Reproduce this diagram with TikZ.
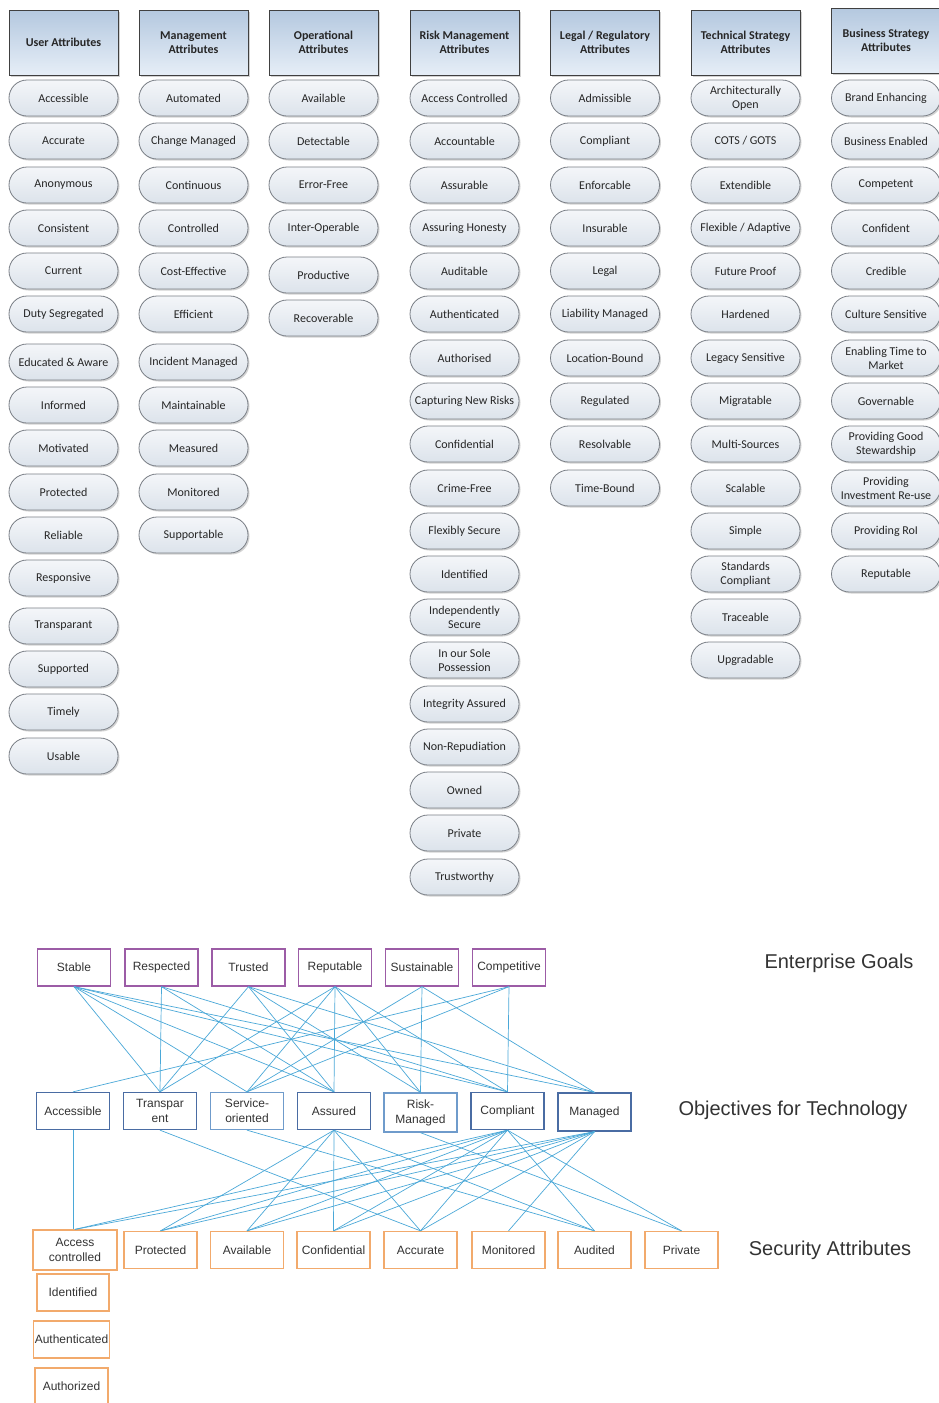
\documentclass[tikz,border=0pt]{standalone}
\usepackage{fontspec}
\setmainfont{Carlito}
\newfontfamily\arial{Liberation Sans}
\usetikzlibrary{shadows}
\definecolor{hdrtop}{HTML}{B4C8DF}
\definecolor{hdrbot}{HTML}{E6EEF7}
\definecolor{pilltop}{HTML}{F4F6F9}
\definecolor{pillbot}{HTML}{DCE3EB}
\definecolor{pillline}{HTML}{7A7F86}
\definecolor{goalline}{HTML}{9C5CA6}
\definecolor{objline}{HTML}{4A6CA3}
\definecolor{objlight}{HTML}{6F9BCB}
\definecolor{secline}{HTML}{F2AA6C}
\definecolor{linkblue}{HTML}{4AA8D8}
\definecolor{txt}{HTML}{333333}
\tikzset{
  hdr/.style={draw=black!75, line width=0.8pt, top color=hdrtop, bottom color=hdrbot,
    minimum width=109pt, minimum height=65pt, align=center, inner sep=1pt,
    font=\fontsize{12}{14}\selectfont\bfseries, text=black!85,
    drop shadow={shadow xshift=1.5pt, shadow yshift=-1.5pt, fill=black!35, opacity=0.5}},
  pill/.style={draw=pillline, line width=0.8pt, rounded corners=18pt, top color=pilltop, bottom color=pillbot,
    minimum width=109pt, minimum height=36pt, align=center, inner sep=1pt,
    font=\fontsize{12}{14}\selectfont, text=black!85,
    drop shadow={shadow xshift=1.5pt, shadow yshift=-1.5pt, fill=black!35, opacity=0.5}},
  box/.style={fill=white, line width=1.3pt, minimum width=73pt, minimum height=37pt,
    align=center, inner sep=1pt, font=\arial\fontsize{12}{15}\selectfont, text=txt},
  goal/.style={box, draw=goalline},
  obj/.style={box, draw=objline},
  objl/.style={box, draw=objlight},
  sec/.style={box, draw=secline},
  tier/.style={font=\arial\fontsize{20}{24}\selectfont, text=txt},
  link/.style={draw=linkblue, line width=0.7pt},
}
\begin{document}
\begin{tikzpicture}[x=1pt, y=-1pt]
\useasboundingbox[fill=white] (0,0) rectangle (939,1403);

% ---------- attribute taxonomy: column headers ----------
\node[hdr] (h1) at (63.5,42.5) {User Attributes};
\node[hdr] (h2) at (193.5,42.5) {Management\\Attributes};
\node[hdr] (h3) at (323.5,42.5) {Operational\\Attributes};
\node[hdr] (h4) at (464.5,42.5) {Risk Management\\Attributes};
\node[hdr] (h5) at (605,42.5) {Legal / Regulatory\\Attributes};
\node[hdr] (h6) at (745.5,42.5) {Technical Strategy\\Attributes};
\node[hdr] (h7) at (886,40.5) {Business Strategy\\Attributes};

% ---------- attribute taxonomy: attributes per column ----------
\foreach [count=\i] \t/\y in {Accessible/98, Accurate/141, Anonymous/185, Consistent/228,
  Current/271, Duty Segregated/314, Educated \& Aware/362, Informed/405, Motivated/448,
  Protected/492, Reliable/535, Responsive/578, Transparant/626, Supported/669,
  Timely/712, Usable/756}
  \node[pill] (ua\i) at (63.5,\y) {\t};

\foreach [count=\i] \t/\y in {Automated/98, Change Managed/141, Continuous/185, Controlled/228,
  Cost-Effective/271, Efficient/314, Incident Managed/362, Maintainable/405, Measured/448,
  Monitored/492, Supportable/535}
  \node[pill] (ma\i) at (193.5,\y) {\t};

\foreach [count=\i] \t/\y in {Available/98, Detectable/141, Error-Free/185, Inter-Operable/228,
  Productive/275, Recoverable/318}
  \node[pill] (oa\i) at (323.5,\y) {\t};

\foreach [count=\i] \t/\y in {Access Controlled/98, Accountable/141, Assurable/185,
  Assuring Honesty/228, Auditable/271, Authenticated/314, Authorised/358,
  Capturing New Risks/401, Confidential/444, Crime-Free/488, Flexibly Secure/531,
  Identified/574, {Independently\\Secure}/617, {In our Sole\\Possession}/660,
  Integrity Assured/704, Non-Repudiation/747, Owned/790, Private/833, Trustworthy/877}
  \node[pill] (ra\i) at (464.5,\y) {\t};

\foreach [count=\i] \t/\y in {Admissible/98, Compliant/141, Enforcable/185, Insurable/228,
  Legal/271, Liability Managed/314, Location-Bound/358, Regulated/401, Resolvable/444,
  Time-Bound/488}
  \node[pill] (la\i) at (605,\y) {\t};

\foreach [count=\i] \t/\y in {{Architecturally\\Open}/98, {COTS / GOTS}/141, Extendible/185,
  {Flexible / Adaptive}/228, Future Proof/271, Hardened/314, Legacy Sensitive/358,
  Migratable/401, Multi-Sources/444, Scalable/488, Simple/531, {Standards\\Compliant}/574,
  Traceable/617, Upgradable/660}
  \node[pill] (ta\i) at (745.5,\y) {\t};

\foreach [count=\i] \t/\y in {Brand Enhancing/98, Business Enabled/141, Competent/185,
  Confident/228, Credible/271, Culture Sensitive/314, {Enabling Time to\\Market}/358,
  Governable/401, {Providing Good\\Stewardship}/444, {Providing\\Investment Re-use}/488,
  Providing RoI/531, Reputable/574}
  \node[pill] (ba\i) at (886,\y) {\t};

% ---------- goals / objectives / security attributes ----------
\node[goal] (stable) at (74,967.5) {Stable};
\node[goal] (respected) at (161.5,967.5) {Respected};
\node[goal] (trusted) at (248.5,967.5) {Trusted};
\node[goal] (reputable) at (335,967.5) {Reputable};
\node[goal] (sustain) at (422,967.5) {Sustainable};
\node[goal] (compet) at (509,967.5) {Competitive};

\node[obj] (access) at (73,1111) {Accessible};
\node[obj] (transp) at (160,1111) {Transpar\\ent};
\node[objl] (service) at (247,1111) {Service-\\oriented};
\node[obj] (assured) at (334,1111) {Assured};
\node[objl, minimum height=39pt] (riskm) at (420.5,1112.5) {Risk-\\Managed};
\node[obj] (compl) at (507.5,1111) {Compliant};
\node[obj, minimum height=38pt] (managed) at (594.5,1112) {Managed};

\node[sec, minimum width=84pt, minimum height=40pt] (accctl) at (75,1250) {Access\\controlled};
\node[sec] (protect) at (160.5,1250) {Protected};
\node[sec] (avail) at (247,1250) {Available};
\node[sec] (confid) at (333.5,1250) {Confidential};
\node[sec] (accur) at (420.5,1250) {Accurate};
\node[sec] (monit) at (508.5,1250) {Monitored};
\node[sec] (audit) at (594.5,1250) {Audited};
\node[sec] (priv) at (681.5,1250) {Private};
\node[sec, minimum width=72pt] (ident) at (73,1292.5) {Identified};
\node[sec] (authn) at (71.5,1339.5) {Authenticated};
\node[sec, minimum height=36pt] (authz) at (71.5,1386) {Authorized};

\node[tier] (tgoal) at (839,963) {Enterprise Goals};
\node[tier] (tobj) at (793,1110) {Objectives for Technology};
\node[tier] (tsec) at (830,1250) {Security Attributes};

% ---------- goals -> objectives ----------
\foreach \a/\b in {stable/transp, stable/service, stable/assured, stable/compl, stable/managed,
  respected/transp, respected/assured, respected/compl,
  trusted/transp, trusted/assured, trusted/riskm, trusted/managed,
  reputable/transp, reputable/service, reputable/assured, reputable/riskm, reputable/compl,
  sustain/service, sustain/riskm, sustain/managed,
  compet/access, compet/service, compet/compl}
  \draw[link] (\a.south) -- (\b.north);

% ---------- objectives -> security attributes ----------
\draw[link] (access.south) -- (access.south |- accctl.north);
\foreach \a/\b in {transp/accur, service/audit,
  assured/protect, assured/avail, assured/confid, assured/accur, assured/audit,
  riskm/priv,
  compl/accctl, compl/protect, compl/avail, compl/confid, compl/accur, compl/audit, compl/priv,
  managed/accctl, managed/protect, managed/avail, managed/confid, managed/accur, managed/monit}
  \draw[link] (\a.south) -- (\b.north);
\end{tikzpicture}
\end{document}
